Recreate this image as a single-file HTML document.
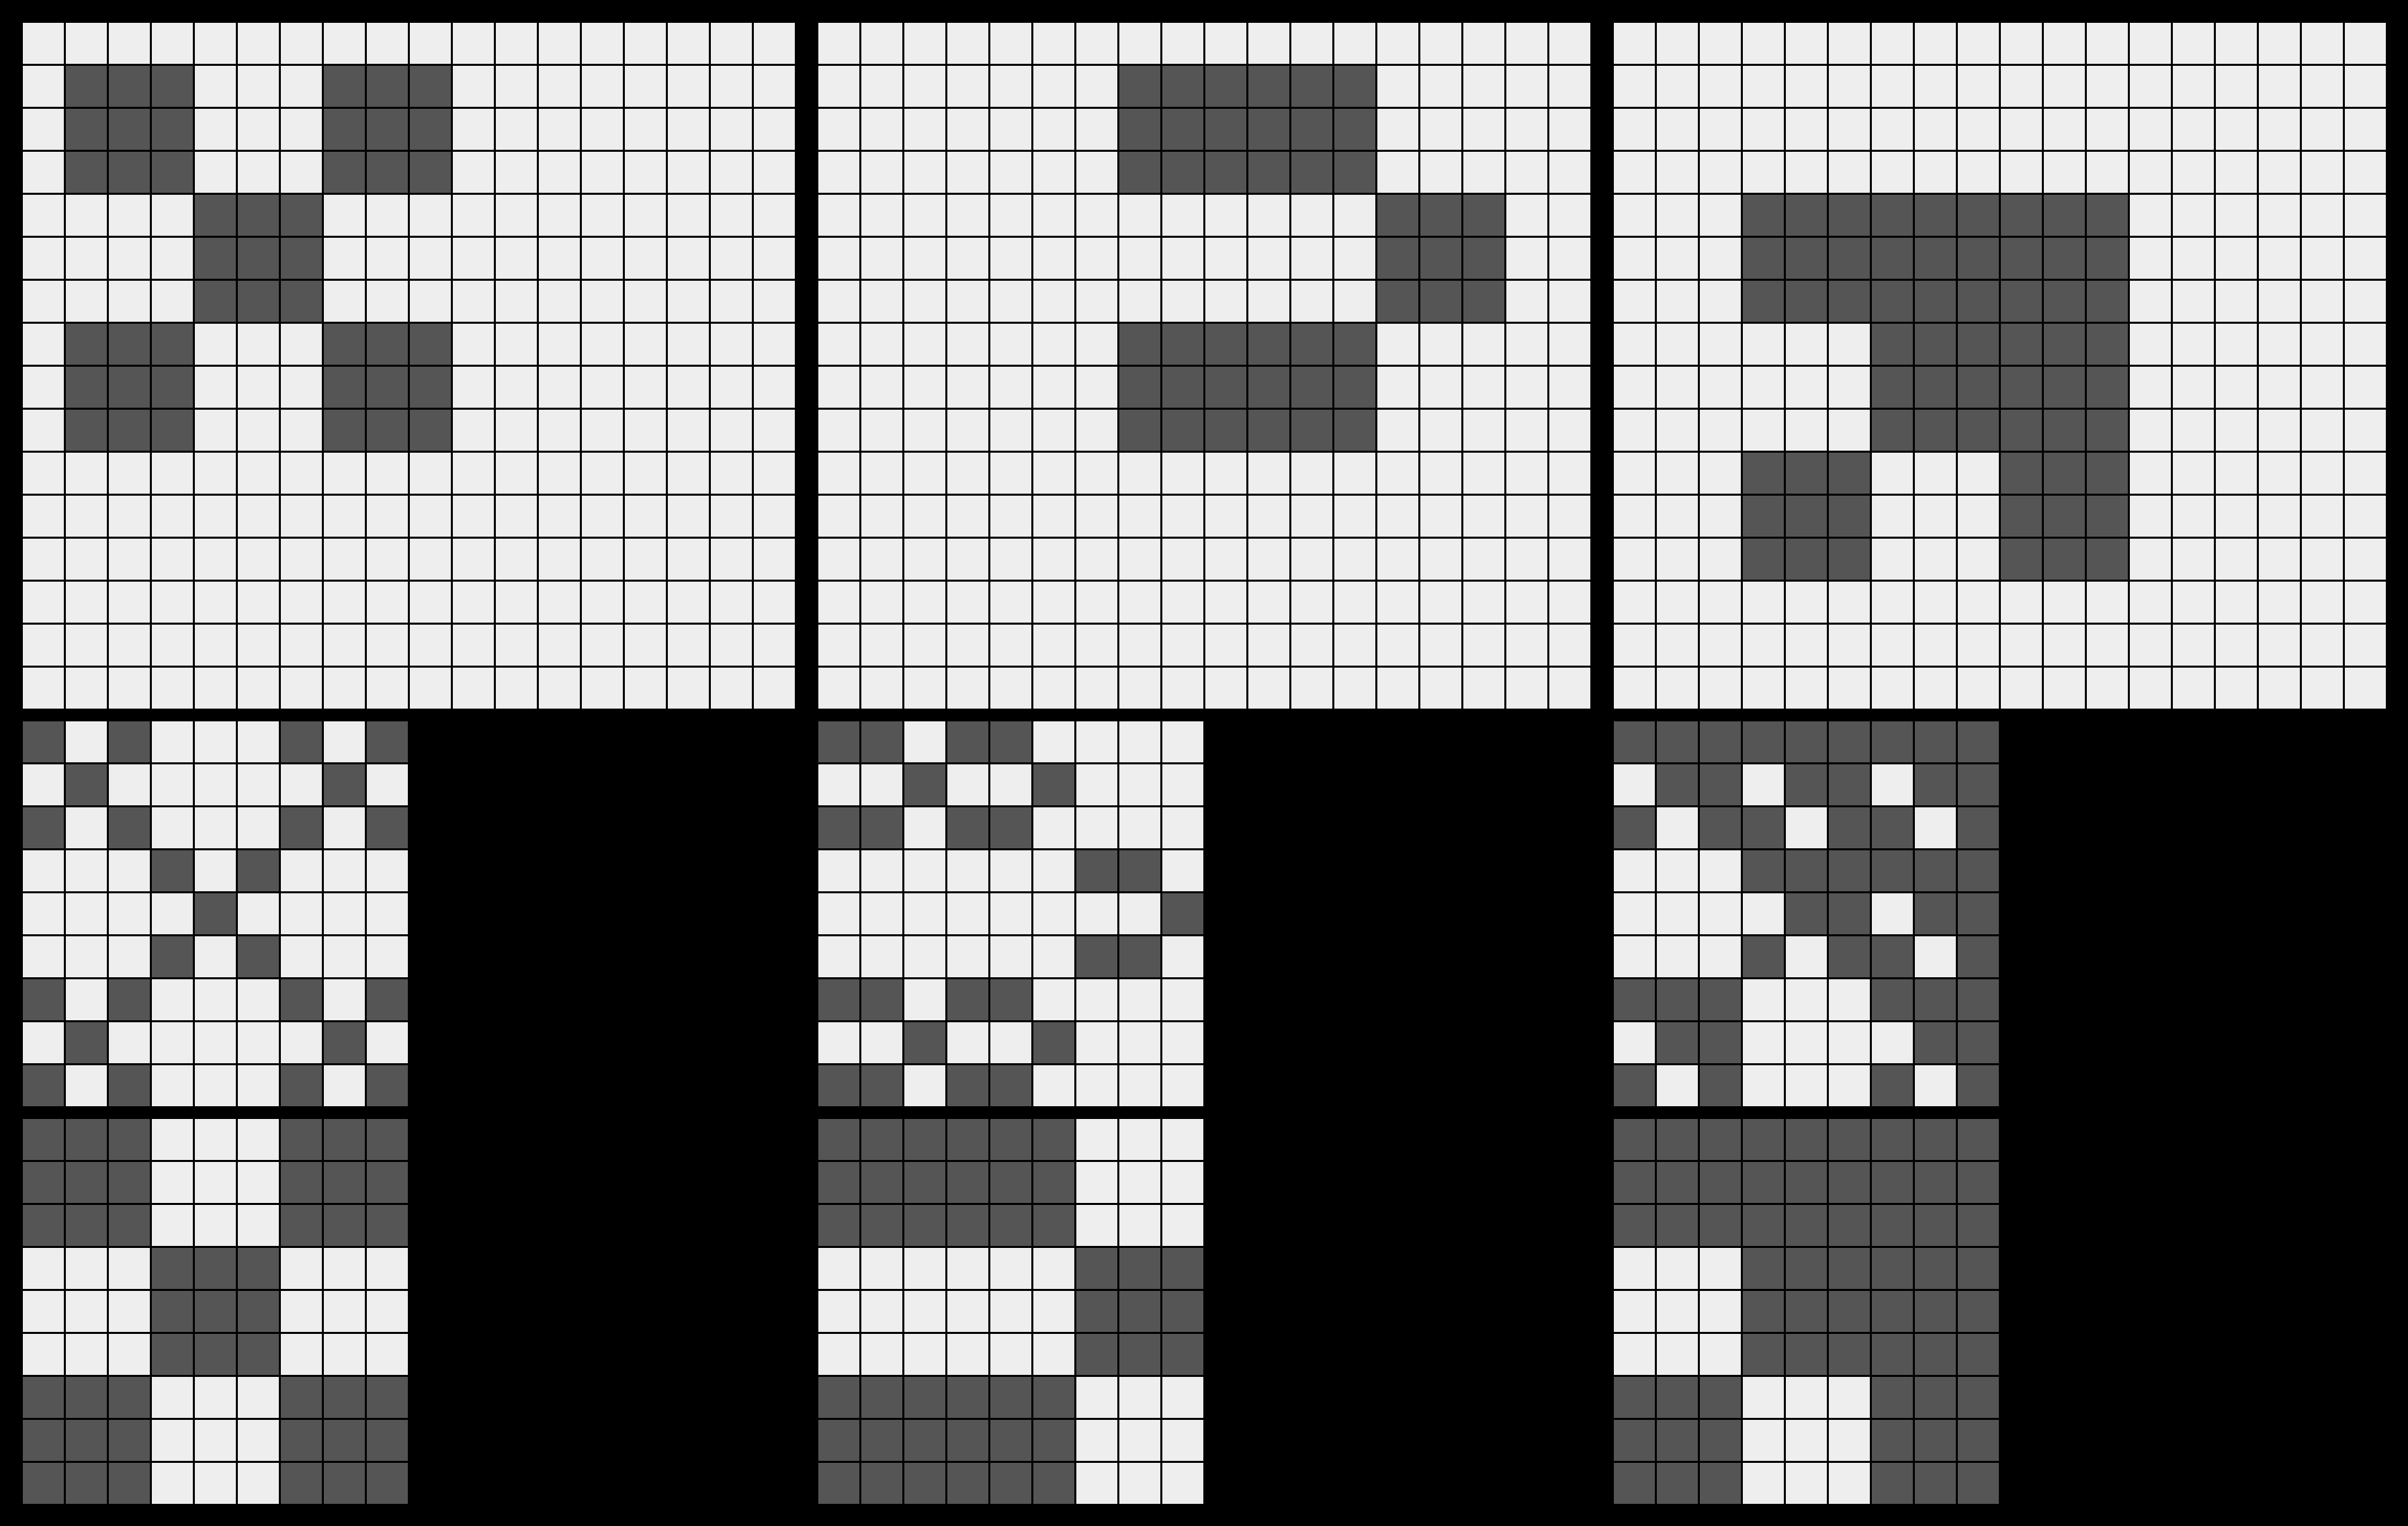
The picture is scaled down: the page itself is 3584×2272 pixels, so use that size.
<!DOCTYPE html>
<html><head><meta charset="utf-8"><style>
html,body{margin:0;padding:0;background:#000;width:3584px;height:2272px;overflow:hidden}
svg{display:block}
</style></head><body>
<svg id="chart" width="3584" height="2272" viewBox="0 0 3584 2272" xmlns="http://www.w3.org/2000/svg">
<rect x="0" y="0" width="3584" height="2272" fill="#000"/>
</svg>
<script>
// Base 3x3 motifs for each column (1 = dark cell)
const motif1 = [[1,0,1],[0,1,0],[1,0,1]];
const motif2 = [[1,1,0],[0,0,1],[1,1,0]];
const motif3 = [[1,1,1],[0,1,1],[1,0,1]];
const motifs = [motif1, motif2, motif3];
// Where the coarse motif sits in the large 18x16 grid (row, col of top-left block)
const motifRow = [1, 1, 4];
const motifCol = [1, 7, 3];
const topRows = 16;
const topCols = 18;
const smallSize = 9;

const svg = document.getElementById('chart');
const NS = 'http://www.w3.org/2000/svg';
const pitch = 64, cell = 61;
const colX = [34, 1218, 2402];
const rowY = {top: 34, kron: 1074, block: 1666};
const LIGHT = '#eeeeee', DARK = '#555555';

function drawCell(g, x, y, dark, name) {
  const r = document.createElementNS(NS, 'rect');
  r.setAttribute('x', x); r.setAttribute('y', y);
  r.setAttribute('width', cell); r.setAttribute('height', cell);
  r.setAttribute('fill', dark ? DARK : LIGHT);
  
  
  g.appendChild(r);
}
function makeGroup(name) {
  const g = document.createElementNS(NS, 'g');
  
  
  svg.appendChild(g);
  return g;
}

for (let p = 0; p < 3; p++) {
  const M = motifs[p];
  // Large grid: each motif cell -> 3x3 block
  const g1 = makeGroup('large-grid-' + (p + 1));
  for (let r = 0; r < topRows; r++) {
    for (let c = 0; c < topCols; c++) {
      const rr = r - motifRow[p], cc = c - motifCol[p];
      let dark = false;
      if (rr >= 0 && rr < 9 && cc >= 0 && cc < 9) dark = M[Math.floor(rr / 3)][Math.floor(cc / 3)] === 1;
      drawCell(g1, colX[p] + c * pitch, rowY.top + r * pitch, dark, 'grid-cell');
    }
  }
  // Kronecker product grid
  const g2 = makeGroup('kronecker-grid-' + (p + 1));
  for (let r = 0; r < smallSize; r++) {
    for (let c = 0; c < smallSize; c++) {
      const dark = M[Math.floor(r / 3)][Math.floor(c / 3)] === 1 && M[r % 3][c % 3] === 1;
      drawCell(g2, colX[p] + c * pitch, rowY.kron + r * pitch, dark, 'kron-cell');
    }
  }
  // Block-expanded grid
  const g3 = makeGroup('block-grid-' + (p + 1));
  for (let r = 0; r < smallSize; r++) {
    for (let c = 0; c < smallSize; c++) {
      const dark = M[Math.floor(r / 3)][Math.floor(c / 3)] === 1;
      drawCell(g3, colX[p] + c * pitch, rowY.block + r * pitch, dark, 'block-cell');
    }
  }
}
</script>
</body></html>
